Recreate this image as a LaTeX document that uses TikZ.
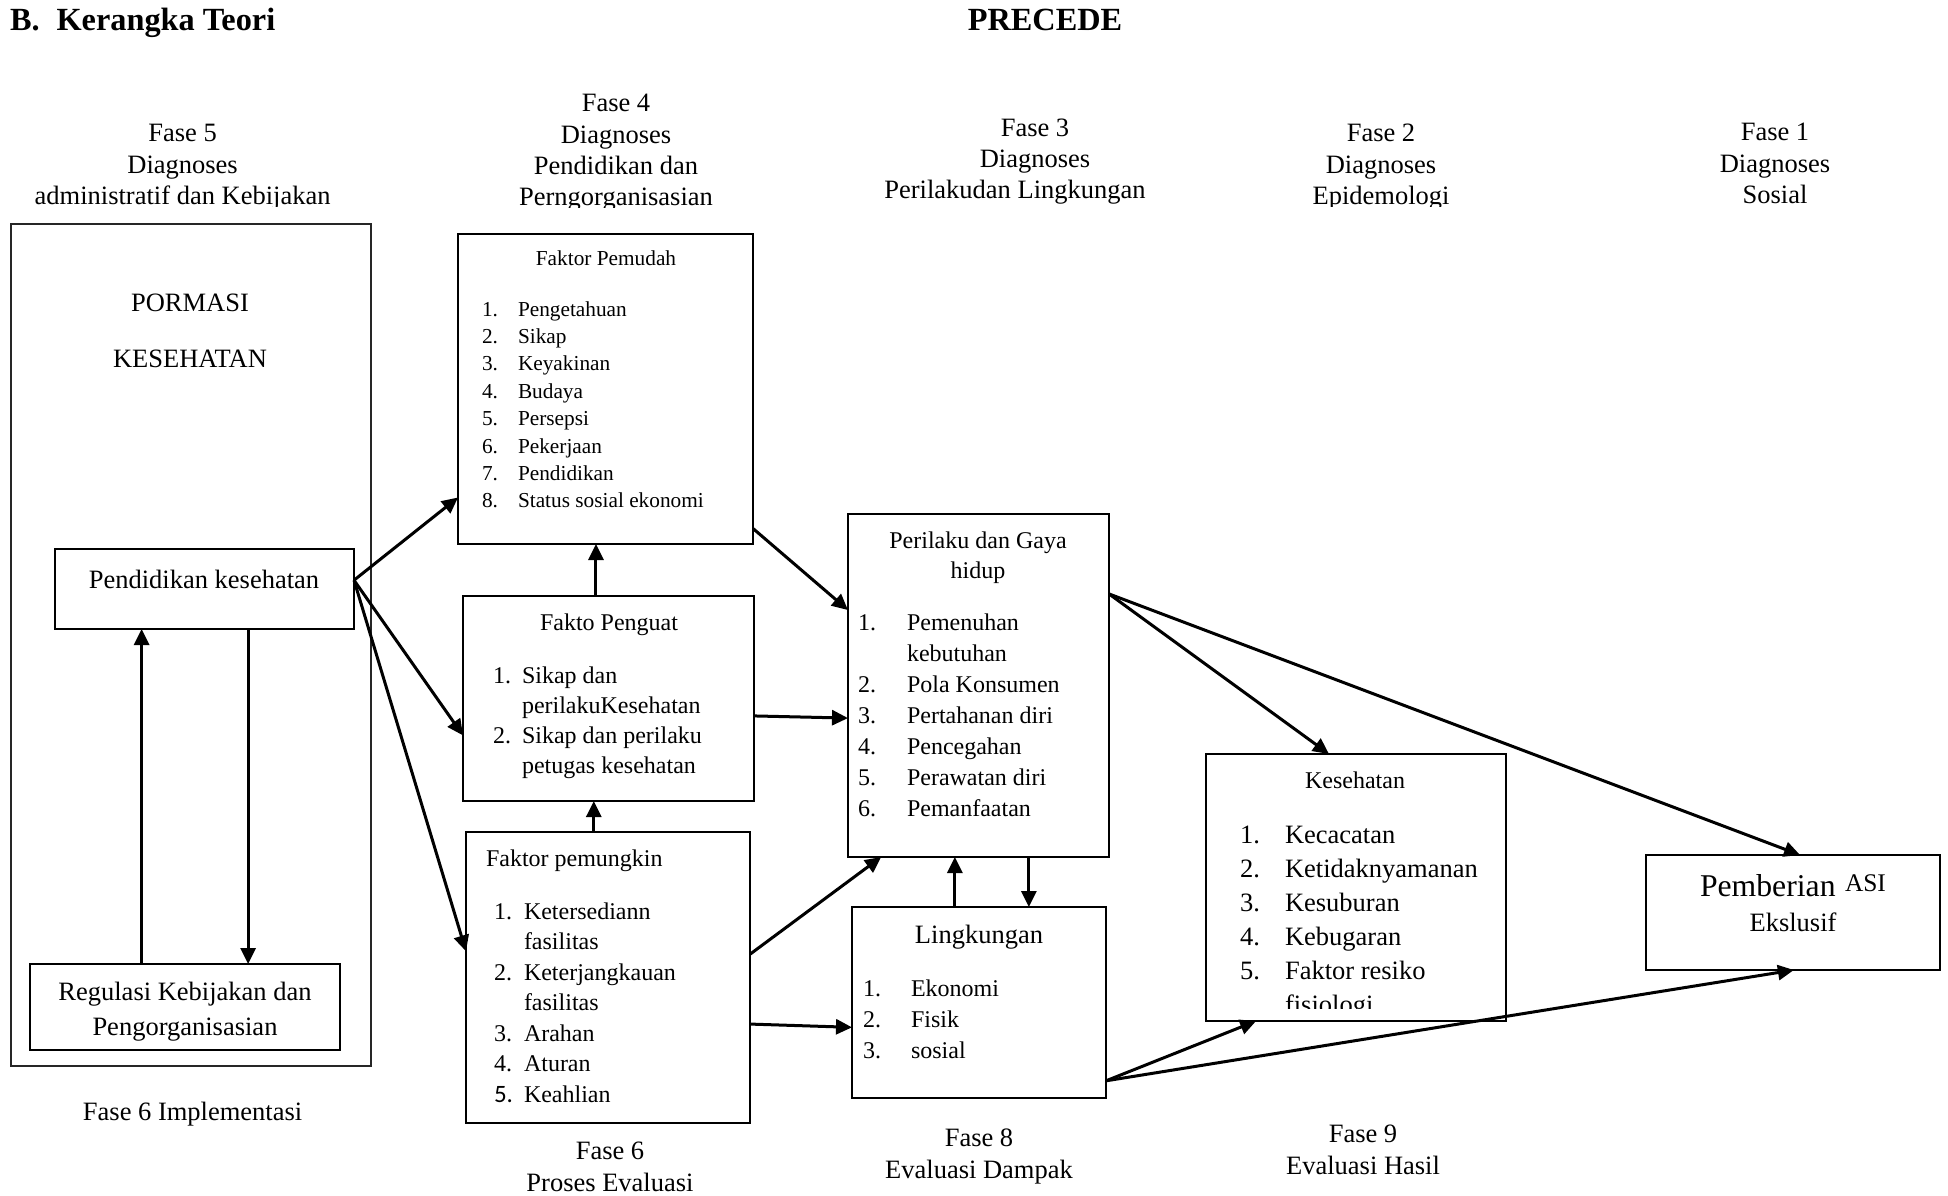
\documentclass[tikz,border=0pt]{standalone}
\usepackage{fontspec}
\setmainfont{Liberation Serif}
\newfontfamily\calibfont{Carlito}
\usetikzlibrary{arrows.meta,calc}
\newcommand\fsBig{\fontsize{32.3}{38}\selectfont}
\newcommand\fsA{\fontsize{26.5}{31}\selectfont}
\newcommand\fsB{\fontsize{24}{28}\selectfont}
\newcommand\fsC{\fontsize{21.3}{25}\selectfont}
\newcommand\fsP{\fontsize{31.7}{36}\selectfont}
\newcommand\fsS{\fontsize{25.4}{30}\selectfont}
\begin{document}
\begin{tikzpicture}[x=1pt,y=-1pt,
  every node/.style={inner sep=0pt,outer sep=0pt},
  box/.style={draw,line width=2.9pt,anchor=north west},
  thinbox/.style={draw,line width=1.3pt,anchor=north west,draw=black!85},
  tA/.style={anchor=base,font=\fsA},
  tAw/.style={anchor=base west,font=\fsA},
  tB/.style={anchor=base,font=\fsB},
  tBw/.style={anchor=base west,font=\fsB},
  tCw/.style={anchor=base west,font=\fsC},
  arr/.style={line width=3pt,-{Triangle[length=16pt,width=15pt]}}]
\useasboundingbox (0,0) rectangle (1948,1196);

% title
\node[anchor=base west,font=\fsBig\bfseries] (title) at (10,31) {B.\hspace{17pt}Kerangka Teori};
\node[anchor=base,font=\fsBig\bfseries] (precede) at (1045,31) {PRECEDE};

% headers
\begin{scope}
\clip (0,80) rectangle (400,206);
\foreach \t [count=\i from 0] in {Fase 5,Diagnoses,administratif dan Kebijakan}
  \node[tA] (hf5-\i) at (182.6,142+31*\i) {\t};
\end{scope}
\begin{scope}
\clip (400,80) rectangle (820,207);
\foreach \t [count=\i from 0] in {Fase 4,Diagnoses,Pendidikan dan,Perngorganisasian}
  \node[tA] (hf4-\i) at (616,112+31*\i) {\t};
\end{scope}
\node[tA] (hf3-0) at (1035,136) {Fase 3};
\node[tA] (hf3-1) at (1035,167) {Diagnoses};
\node[tA] (hf3-2) at (1015,198) {Perilakudan Lingkungan};
\begin{scope}
\clip (1200,80) rectangle (1560,206);
\foreach \t [count=\i from 0] in {Fase 2,Diagnoses,Epidemologi}
  \node[tA] (hf2-\i) at (1381,142+31*\i) {\t};
\end{scope}
\foreach \t [count=\i from 0] in {Fase 1,Diagnoses,Sosial}
  \node[tA] (hf1-\i) at (1775,141+31*\i) {\t};

% left outer box
\node[thinbox,minimum width=360pt,minimum height=842pt] (outer) at (11,224) {};
\node[tA] (pormasi) at (190,311) {PORMASI};
\node[tA] (kesehatan1) at (190,367) {KESEHATAN};
\node[box,minimum width=299pt,minimum height=80pt] (pk) at (55,549) {};
\node[tA] (pkt) at (204,588) {Pendidikan kesehatan};
\node[box,minimum width=310pt,minimum height=86pt] (reg) at (30,964) {};
\node[tA] (reg1) at (185,1000) {Regulasi Kebijakan dan};
\node[tA] (reg2) at (185,1035) {Pengorganisasian};
\node[tA] (f6impl) at (192.6,1120) {Fase 6 Implementasi};

\coordinate (r1) at ($(reg.north west)!0.36!(reg.north east)$);
\coordinate (r2) at ($(pk.south west)!0.646!(pk.south east)$);
\draw[arr] (r1) -- (r1 |- pk.south);
\draw[arr] (r2) -- (r2 |- reg.north);

% Faktor Pemudah
\node[box,minimum width=295pt,minimum height=310pt] (pemudah) at (458,234) {};
\node[anchor=base,font=\fsC] (pemudaht) at (606,265) {Faktor Pemudah};
\foreach \n/\t [count=\i from 0] in {1./Pengetahuan,2./Sikap,3./Keyakinan,4./Budaya,5./Persepsi,6./Pekerjaan,7./Pendidikan,8./Status sosial ekonomi}{
  \node[tCw] (pmn\i) at (482,316+27.4*\i) {\n};
  \node[tCw] (pmt\i) at (518,316+27.4*\i) {\t};
}

% Fakto Penguat
\node[box,minimum width=291pt,minimum height=205pt] (penguat) at (463,596) {};
\node[tB] (penguatt) at (609,630) {Fakto Penguat};
\foreach \n/\t [count=\i from 0] in {1./Sikap dan,{}/perilakuKesehatan,2./Sikap dan perilaku,{}/petugas kesehatan}{
  \node[tBw] (pgn\i) at (493,683+30*\i) {\n};
  \node[tBw] (pgt\i) at (522,683+30*\i) {\t};
}

% Faktor pemungkin
\node[box,minimum width=284pt,minimum height=291pt] (pemungkin) at (466,832) {};
\node[tBw] (pemungkint) at (486,866) {Faktor pemungkin};
\foreach \n/\t [count=\i from 0] in {1./Ketersediann,{}/fasilitas,2./Keterjangkauan,{}/fasilitas,3./Arahan,4./Aturan}{
  \node[tBw] (pkn\i) at (494,919+30.5*\i) {\n};
  \node[tBw] (pkt\i) at (524,919+30.5*\i) {\t};
}
\node[anchor=base west,font=\fontsize{25}{30}\calibfont] (pkn6) at (494,1102) {5.};
\node[tBw] (pkt6) at (524,1102) {Keahlian};

\coordinate (u1) at ($(penguat.north west)!0.457!(penguat.north east)$);
\coordinate (u2) at ($(pemungkin.north west)!0.45!(pemungkin.north east)$);
\draw[arr] (u1) -- (u1 |- pemudah.south);
\draw[arr] (u2) -- (u2 |- penguat.south);

% Perilaku
\node[box,minimum width=261pt,minimum height=343pt] (perilaku) at (848,514) {};
\node[tB] (perilakut1) at (978,548) {Perilaku dan Gaya};
\node[tB] (perilakut2) at (978,578) {hidup};
\foreach \n/\t [count=\i from 0] in {1./Pemenuhan,{}/kebutuhan,2./Pola Konsumen,3./Pertahanan diri,4./Pencegahan,5./Perawatan diri,6./Pemanfaatan}{
  \node[tBw] (prn\i) at (858,630+31*\i) {\n};
  \node[tBw] (prt\i) at (907,630+31*\i) {\t};
}

% Lingkungan
\node[box,minimum width=254pt,minimum height=191pt] (ling) at (852,907) {};
\node[tA] (lingt) at (979,943) {Lingkungan};
\foreach \n/\t [count=\i from 0] in {1./Ekonomi,2./Fisik,3./sosial}{
  \node[tBw] (lgn\i) at (863,996+31*\i) {\n};
  \node[tBw] (lgt\i) at (911,996+31*\i) {\t};
}
\coordinate (l1) at ($(ling.north west)!0.405!(ling.north east)$);
\coordinate (l2) at ($(perilaku.south west)!0.693!(perilaku.south east)$);
\draw[arr] (l1) -- (l1 |- perilaku.south);
\draw[arr] (l2) -- (l2 |- ling.north);

% Kesehatan
\node[box,minimum width=300pt,minimum height=267pt] (kes) at (1206,754) {};
\node[tB] (kest) at (1355,788) {Kesehatan};
\begin{scope}
\clip (1200,760) rectangle (1500,1008);
\foreach \n/\t [count=\i from 0] in {1./Kecacatan,2./Ketidaknyamanan,3./Kesuburan,4./Kebugaran,5./Faktor resiko,{}/fisiologi}{
  \node[tAw] (ksn\i) at (1240,843+34*\i) {\n};
  \node[tAw] (kst\i) at (1285,843+34*\i) {\t};
}
\end{scope}

% Pemberian ASI
\node[box,minimum width=294pt,minimum height=115pt] (asi) at (1646,855) {};
\node[anchor=base west,font=\fsP] (asi1) at (1700,896) {Pemberian};
\node[anchor=base west,font=\fsS] (asi2) at (1845,891) {ASI};
\node[tA] (asi3) at (1793,931) {Ekslusif};

% bottom labels
\node[tA] (b6a) at (610,1159) {Fase 6};
\node[tA] (b6b) at (610,1191) {Proses Evaluasi};
\node[tA] (b8a) at (979,1146) {Fase 8};
\node[tA] (b8b) at (979,1178) {Evaluasi Dampak};
\node[tA] (b9a) at (1363,1142) {Fase 9};
\node[tA] (b9b) at (1363,1174) {Evaluasi Hasil};

% connectors
\coordinate (pkE) at ($(pk.north east)!0.39!(pk.south east)$);
\draw[arr] (pkE) -- ($(pemudah.north west)!0.85!(pemudah.south west)$);
\draw[arr] (pkE) -- ($(penguat.north west)!0.68!(penguat.south west)$);
\draw[arr] (pkE) -- ($(pemungkin.north west)!0.41!(pemungkin.south west)$);
\draw[arr] ($(pemudah.north east)!0.95!(pemudah.south east)$) -- ($(perilaku.north west)!0.28!(perilaku.south west)$);
\draw[arr] ($(penguat.north east)!0.585!(penguat.south east)$) -- ($(perilaku.north west)!0.595!(perilaku.south west)$);
\draw[arr] ($(pemungkin.north east)!0.42!(pemungkin.south east)$) -- ($(perilaku.south west)!0.127!(perilaku.south east)$);
\draw[arr] ($(pemungkin.north east)!0.66!(pemungkin.south east)$) -- ($(ling.north west)!0.63!(ling.south west)$);
\coordinate (prE) at ($(perilaku.north east)!0.233!(perilaku.south east)$);
\draw[arr] (prE) -- ($(kes.north west)!0.41!(kes.north east)$);
\draw[arr] (prE) -- ($(asi.north west)!0.524!(asi.north east)$);
\coordinate (lgE) at ($(ling.north east)!0.91!(ling.south east)$);
\draw[arr] (lgE) -- ($(kes.south west)!0.167!(kes.south east)$);
\draw[arr] (lgE) -- ($(asi.south west)!0.503!(asi.south east)$);
\end{tikzpicture}
\end{document}
